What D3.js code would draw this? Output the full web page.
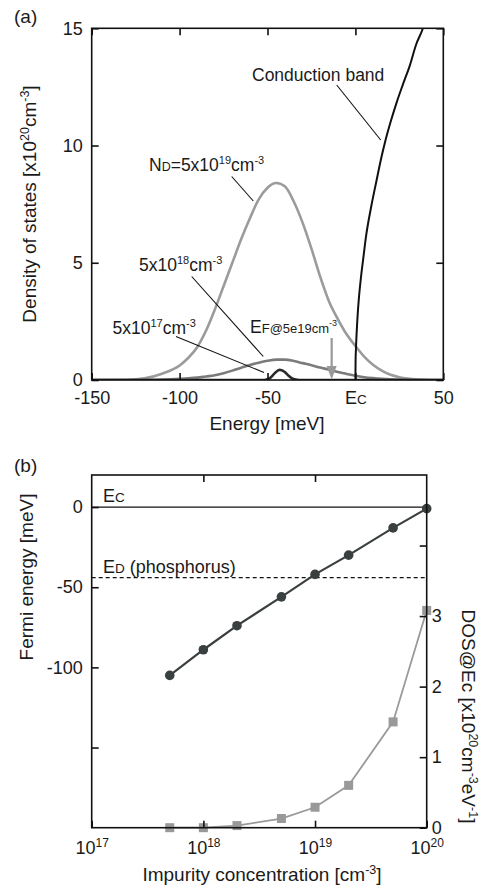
<!DOCTYPE html>
<html lang="en">
<head>
  <meta charset="UTF-8"/>
  <title>DOS and Fermi energy</title>
  <script src="https://d3js.org/d3.v7.min.js"></script>
  <style>
    body { margin: 0; background: #fff; }
    svg text { font-family: "Liberation Sans", Arial, Helvetica, sans-serif; fill: #1a1a1a; }
  </style>
</head>
<body>
<script>

// ---- panel (a) data ----
var energy = [-150, -130, -120, -110, -100, -95, -90, -85, -80, -75, -70, -65, -60, -55, -50, -45,
              -40, -35, -30, -25, -20, -15, -10, -5, 0, 5, 10, 15, 20, 25, 30, 40, 50];
var dos5e19 = [0, 0.01, 0.07, 0.27, 0.62, 0.95, 1.4, 2.1, 3.0, 4.0, 5.0, 6.0, 6.9, 7.7, 8.2, 8.4,
               8.25, 7.6, 6.7, 5.6, 4.4, 3.35, 2.6, 1.95, 1.45, 1.0, 0.65, 0.4, 0.22, 0.12, 0.06, 0.01, 0];
var dos5e18 = [0, 0, 0.005, 0.02, 0.05, 0.07, 0.1, 0.15, 0.2, 0.29, 0.4, 0.52, 0.64, 0.74, 0.82, 0.87,
               0.87, 0.81, 0.72, 0.63, 0.53, 0.44, 0.34, 0.26, 0.18, 0.12, 0.08, 0.05, 0.03, 0.02, 0.01, 0, 0];
var energy17 = [-150, -55, -52, -50, -48, -46, -44, -43, -42, -40, -38, -36, -34, -32, 50];
var dos5e17  = [0, 0, 0, 0.03, 0.12, 0.28, 0.41, 0.43, 0.42, 0.33, 0.18, 0.07, 0.02, 0, 0];
var energyCB = [0, 0.1, 0.3, 0.7, 1.3, 2, 3.2, 4.5, 6, 9, 12, 14.8, 16.7, 20, 23.3, 27, 30.9, 34.5, 38.4, 40];
var dosCB    = [0, 0.8, 1.3, 2.0, 2.8, 3.5, 4.4, 5.2, 6.1, 7.4, 8.5, 9.5, 10.1, 11.0, 11.8, 12.6, 13.4, 14.3, 15.0, 15.4];
var energyTicks = [-150, -100, -50, 0, 50];
var energyTickLabels = ["-150", "-100", "-50", "Ec", "50"];
var dosTicks = [0, 5, 10, 15];
var fermiArrowE = -13.5;

// ---- panel (b) data ----
var conc = [5e17, 1e18, 2e18, 5e18, 1e19, 2e19, 5e19, 1e20];
var fermi = [-105, -89, -74, -56, -42, -30, -13, -1];
var dosEc = [0, 0, 0.03, 0.13, 0.29, 0.6, 1.5, 3.08];
var concTicks = [1e17, 1e18, 1e19, 1e20];
var concExp = ["17", "18", "19", "20"];
var fermiTicks = [0, -50, -100, -150];
var fermiTickLabels = ["0", "-50", "-100", ""];
var dosEcTicks = [0, 1, 2, 3, 4];
var dosEcTickLabels = ["0", "1", "2", "3", ""];
var levelEc = 0;
var levelEd = -44;

var w = 488, h = 887;
var svg = d3.select("body").append("svg").attr("width", w).attr("height", h);

// small helper for text with superscripts / small capitals
function rich(sel, parts, supSize, scSize) {
  var shift = 0;
  parts.forEach(function(p) {
    var target = 0;
    var ts = sel.append("tspan").text(p[0]);
    if (p[1] == "sup") { target = -7; ts.attr("font-size", supSize || 11); }
    if (p[1] == "sc") { ts.attr("font-size", scSize || 12.5); }
    if (target - shift != 0) ts.attr("dy", target - shift);
    shift = target;
  });
  return sel;
}

// ================= panel (a) =================
var ax = {l: 91.7, r: 443.3, t: 28.3, b: 380};
var xE = d3.scaleLinear().domain([-150, 50]).range([ax.l, ax.r]);
var yD = d3.scaleLinear().domain([0, 15]).range([ax.b, ax.t]);

svg.append("clipPath").attr("id", "clipA")
  .append("rect").attr("x", ax.l).attr("y", ax.t).attr("width", ax.r - ax.l).attr("height", ax.b - ax.t);

var gA = svg.append("g").attr("clip-path", "url(#clipA)");
function curve(xs, ys) {
  return d3.line().x(function(d, i) { return xE(xs[i]); }).y(function(d) { return yD(d); })
           .curve(d3.curveMonotoneX)(ys);
}
gA.append("path").attr("d", curve(energy, dos5e19)).attr("fill", "none").attr("stroke", "#9b9b9b").attr("stroke-width", 2.6);
gA.append("path").attr("d", curve(energy, dos5e18)).attr("fill", "none").attr("stroke", "#7b7b7b").attr("stroke-width", 2.6);
gA.append("path").attr("d", curve(energy17, dos5e17)).attr("fill", "none").attr("stroke", "#2a2a2a").attr("stroke-width", 2.6);
gA.append("path").attr("d", curve(energyCB, dosCB)).attr("fill", "none").attr("stroke", "#111").attr("stroke-width", 2);

// axes (inward ticks)
svg.append("g").attr("transform", "translate(0," + ax.b + ")")
  .call(d3.axisBottom(xE).tickValues(energyTicks).tickSize(-7).tickPadding(11)
        .tickFormat(function(d, i) { return energyTickLabels[i]; }))
  .call(function(g) { g.select(".domain").remove(); });
svg.append("g").attr("transform", "translate(0," + ax.t + ")")
  .call(d3.axisTop(xE).tickValues(energyTicks).tickSize(-7).tickFormat(""))
  .call(function(g) { g.select(".domain").remove(); });
svg.append("g").attr("transform", "translate(" + ax.l + ",0)")
  .call(d3.axisLeft(yD).tickValues(dosTicks).tickSize(-7).tickPadding(9))
  .call(function(g) { g.select(".domain").remove(); });
svg.append("g").attr("transform", "translate(" + ax.r + ",0)")
  .call(d3.axisRight(yD).tickValues(dosTicks).tickSize(-7).tickFormat(""))
  .call(function(g) { g.select(".domain").remove(); });

svg.append("rect").attr("x", ax.l).attr("y", ax.t).attr("width", ax.r - ax.l).attr("height", ax.b - ax.t)
  .attr("fill", "none").attr("stroke", "#111").attr("stroke-width", 1.6);

// Ec label as E + small capital C
svg.selectAll(".tick text").attr("font-size", 18).attr("fill", "#1a1a1a");
svg.selectAll(".tick line").attr("stroke", "#111").attr("stroke-width", 1.6);
svg.selectAll(".tick text").filter(function() { return d3.select(this).text() == "Ec"; })
  .each(function() { var t = d3.select(this); t.text(""); rich(t, [["E"], ["C", "sc"]], 11, 13.5); });

svg.append("text").attr("x", 14).attr("y", 23).attr("font-size", 19).text("(a)");
svg.append("text").attr("x", 267).attr("y", 430).attr("font-size", 19).attr("text-anchor", "middle").text("Energy [meV]");
rich(svg.append("text").attr("transform", "translate(35.5,204) rotate(-90)").attr("font-size", 19).attr("text-anchor", "middle"),
  [["Density of states [x10"], ["20", "sup"], ["cm"], ["-3", "sup"], ["]"]], 12.5);

// annotations
var ann = svg.append("g").attr("font-size", 17.5);
ann.append("text").attr("x", 252).attr("y", 80.5).text("Conduction band");
rich(ann.append("text").attr("x", 149).attr("y", 171), [["N"], ["D", "sc"], ["=5x10"], ["19", "sup"], ["cm"], ["-3", "sup"]]);
rich(ann.append("text").attr("x", 139).attr("y", 270.5), [["5x10"], ["18", "sup"], ["cm"], ["-3", "sup"]]);
rich(ann.append("text").attr("x", 112.5).attr("y", 334), [["5x10"], ["17", "sup"], ["cm"], ["-3", "sup"]]);
rich(ann.append("text").attr("x", 250).attr("y", 332.5), [["E"], ["F@5e19cm", "sc"], ["-3", "sup"]], 9, 13);

var leaders = [[336.7, 85, 380.7, 140], [231.7, 176.5, 253.3, 201], [191.7, 276.5, 263.3, 356.5], [176, 336.5, 264, 372.5]];
ann.selectAll("line").data(leaders).enter().append("line")
  .attr("x1", function(d) { return d[0]; }).attr("y1", function(d) { return d[1]; })
  .attr("x2", function(d) { return d[2]; }).attr("y2", function(d) { return d[3]; })
  .attr("stroke", "#111").attr("stroke-width", 1.1);

// Fermi level arrow
var ax0 = xE(fermiArrowE);
svg.append("line").attr("x1", ax0).attr("x2", ax0).attr("y1", 338).attr("y2", 368)
  .attr("stroke", "#999").attr("stroke-width", 2.2);
svg.append("path").attr("d", "M" + (ax0 - 5) + ",366 L" + (ax0 + 5) + ",366 L" + ax0 + "," + (yD(0) - 0.5) + "Z")
  .attr("fill", "#999");

// ================= panel (b) =================
var bx = {l: 91.7, r: 426.7, t: 475, b: 827.7};
var xC = d3.scaleLog().domain([1e17, 1e20]).range([bx.l, bx.r]);
var yF = d3.scaleLinear().domain([-200, 20]).range([bx.b, bx.t]);
var yR = d3.scaleLinear().domain([0, 5]).range([bx.b, bx.t]);

var gB = svg.append("g");
gB.append("line").attr("x1", bx.l).attr("x2", bx.r).attr("y1", yF(levelEc)).attr("y2", yF(levelEc))
  .attr("stroke", "#111").attr("stroke-width", 1.3);
gB.append("line").attr("x1", bx.l).attr("x2", bx.r).attr("y1", yF(levelEd)).attr("y2", yF(levelEd))
  .attr("stroke", "#111").attr("stroke-width", 1.3).attr("stroke-dasharray", "4,3");

var axB1 = svg.append("g").attr("transform", "translate(0," + bx.b + ")")
  .call(d3.axisBottom(xC).tickValues(concTicks).tickSize(-7).tickPadding(14).tickFormat(""));
axB1.select(".domain").remove();
axB1.selectAll(".tick text").each(function(d, i) {
  var t = d3.select(this).attr("font-size", 18);
  rich(t, [["10"], [concExp[i], "sup"]], 12);
});
svg.append("g").attr("transform", "translate(0," + bx.t + ")")
  .call(d3.axisTop(xC).tickValues(concTicks.slice(1, 3)).tickSize(-7).tickFormat(""))
  .call(function(g) { g.select(".domain").remove(); });
svg.append("g").attr("transform", "translate(" + bx.l + ",0)")
  .call(d3.axisLeft(yF).tickValues(fermiTicks).tickSize(-7).tickPadding(9)
        .tickFormat(function(d, i) { return fermiTickLabels[i]; }))
  .call(function(g) { g.select(".domain").remove(); });
svg.append("g").attr("transform", "translate(" + bx.r + ",0)")
  .call(d3.axisRight(yR).tickValues(dosEcTicks).tickSize(-7).tickPadding(5)
        .tickFormat(function(d, i) { return dosEcTickLabels[i]; }))
  .call(function(g) { g.select(".domain").remove(); });

svg.append("rect").attr("x", bx.l).attr("y", bx.t).attr("width", bx.r - bx.l).attr("height", bx.b - bx.t)
  .attr("fill", "none").attr("stroke", "#111").attr("stroke-width", 1.6);

svg.selectAll(".tick text").attr("font-size", 18).attr("fill", "#1a1a1a");
svg.selectAll(".tick line").attr("stroke", "#111").attr("stroke-width", 1.6);

// DOS@Ec series (gray squares)
gB.append("path").datum(conc)
  .attr("d", d3.line().x(function(d) { return xC(d); }).y(function(d, i) { return yR(dosEc[i]); }))
  .attr("fill", "none").attr("stroke", "#9a9a9a").attr("stroke-width", 1.8);
gB.selectAll("rect.sq").data(conc).enter().append("rect").attr("class", "sq")
  .attr("x", function(d) { return xC(d) - 4.5; })
  .attr("y", function(d, i) { return yR(dosEc[i]) - 4.5; })
  .attr("width", 9).attr("height", 9).attr("fill", "#999");

// Fermi energy series (dark circles)
gB.append("path").datum(conc)
  .attr("d", d3.line().x(function(d) { return xC(d); }).y(function(d, i) { return yF(fermi[i]); }))
  .attr("fill", "none").attr("stroke", "#3a3f3f").attr("stroke-width", 2.2);
gB.selectAll("circle").data(conc).enter().append("circle")
  .attr("cx", function(d) { return xC(d); })
  .attr("cy", function(d, i) { return yF(fermi[i]); })
  .attr("r", 4.8).attr("fill", "#3a3f3f");

// labels
svg.append("text").attr("x", 14).attr("y", 471.5).attr("font-size", 19).text("(b)");
rich(svg.append("text").attr("x", 103).attr("y", 502).attr("font-size", 18), [["E"], ["C", "sc"]], 11, 13.5);
rich(svg.append("text").attr("x", 103).attr("y", 573).attr("font-size", 18), [["E"], ["D", "sc"], [" (phosphorus)"]], 11, 13.5);
svg.append("text").attr("transform", "translate(32.5,577) rotate(-90)").attr("font-size", 19)
  .attr("text-anchor", "middle").text("Fermi energy [meV]");
rich(svg.append("text").attr("transform", "translate(461.5,716.5) rotate(90)").attr("font-size", 19).attr("text-anchor", "middle"),
  [["DOS@Ec [x10"], ["20", "sup"], ["cm"], ["-3", "sup"], ["eV"], ["-1", "sup"], ["]"]], 12.5);
rich(svg.append("text").attr("x", 262).attr("y", 881).attr("font-size", 19).attr("text-anchor", "middle"),
  [["Impurity concentration [cm"], ["-3", "sup"], ["]"]], 12.5);

</script>
</body>
</html>
